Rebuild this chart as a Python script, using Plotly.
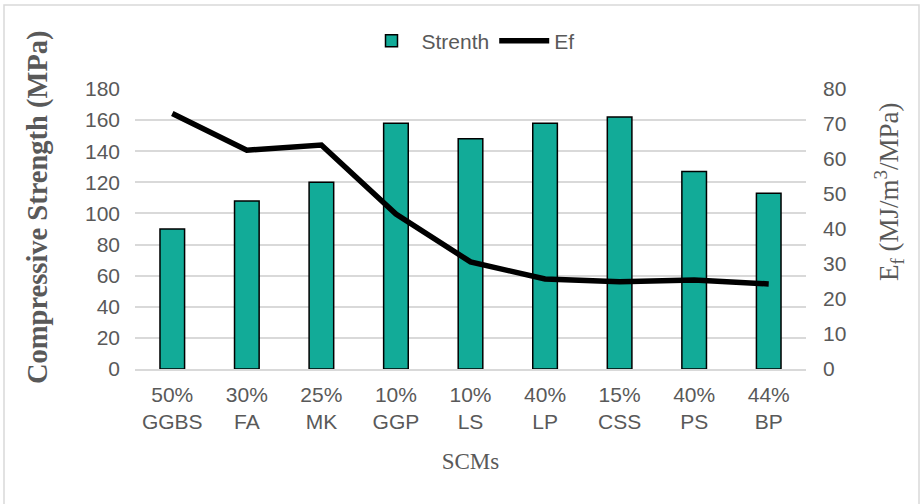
import plotly.graph_objects as go

categories = ["50%<br>GGBS", "30%<br>FA", "25%<br>MK", "10%<br>GGP", "10%<br>LS",
              "40%<br>LP", "15%<br>CSS", "40%<br>PS", "44%<br>BP"]
strength = [90, 108, 120, 158, 148, 158, 162, 127, 113]
ef = [73, 62.5, 64, 44.3, 30.6, 25.7, 24.9, 25.4, 24.3]

W, H = 921, 504
L, R, T, B = 135, 115, 89, 135
pw, ph = W - L - R, H - T - B

def px(x):
    return (x - L) / pw

def py(y):
    return (H - B - y) / ph

grey = "#595959"
serif = "Liberation Serif, Times New Roman"
fig = go.Figure()
fig.add_trace(go.Bar(x=categories, y=strength, name="Strenth", width=0.33,
                     marker=dict(color="#12AB98", line=dict(color="black", width=1.5)),
                     yaxis="y"))
fig.add_trace(go.Scatter(x=categories, y=ef, name="Ef", mode="lines",
                         line=dict(color="black", width=5.5), yaxis="y2"))

fig.update_layout(
    width=W, height=H,
    margin=dict(l=L, r=R, t=T, b=B),
    paper_bgcolor="white", plot_bgcolor="white",
    font=dict(family="Liberation Sans, Arial", color=grey, size=21),
    showlegend=True,
    legend=dict(orientation="h", x=0.5, xanchor="center", y=py(41), yanchor="middle",
                font=dict(size=21, color=grey), itemwidth=50, traceorder="normal"),
    xaxis=dict(showgrid=False, showline=True, linecolor="#D9D9D9", linewidth=1.5,
               tickfont=dict(size=21, color=grey), ticks="", ticklabelstandoff=6,
               title=dict(text="SCMs", font=dict(family=serif, size=23, color=grey), standoff=21)),
    yaxis=dict(range=[0, 180], dtick=20, showgrid=True, gridcolor="#D9D9D9", gridwidth=1.5,
               zeroline=False, ticks="", ticklabelstandoff=14,
               tickfont=dict(size=21, color=grey)),
    yaxis2=dict(range=[0, 80], dtick=10, overlaying="y", side="right", showgrid=False,
                zeroline=False, ticks="", ticklabelstandoff=16,
                tickfont=dict(size=21, color=grey)),
    bargap=0.5,
)
fig.add_annotation(text="<b>Compressive Strength (MPa)</b>", xref="paper", yref="paper",
                   x=px(38), y=py(207), xanchor="center", yanchor="middle", textangle=-90,
                   showarrow=False, font=dict(family=serif, size=28.5, color=grey))
fig.add_annotation(text="E<sub>f</sub> (MJ/m<sup>3</sup>/MPa)", xref="paper", yref="paper",
                   x=px(889), y=py(192), xanchor="center", yanchor="middle", textangle=-90,
                   showarrow=False, font=dict(family=serif, size=27, color=grey))
fig.add_shape(type="rect", xref="paper", yref="paper",
              x0=px(4), x1=px(919), y0=py(515), y1=py(5),
              line=dict(color="#D9D9D9", width=1.5), fillcolor="rgba(0,0,0,0)", layer="below")

fig.write_html("out.html")
